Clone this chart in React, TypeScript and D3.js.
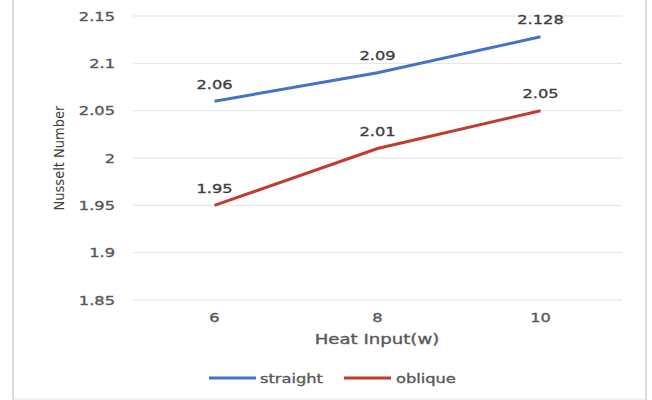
import React from "react";
import * as d3 from "d3";

const categories = ["6", "8", "10"];
const straight = [2.06, 2.09, 2.128];
const oblique = [1.95, 2.01, 2.05];
const straightLabels = ["2.06", "2.09", "2.128"];
const obliqueLabels = ["1.95", "2.01", "2.05"];
const yTicks = [1.85, 1.9, 1.95, 2, 2.05, 2.1, 2.15];
const yTickLabels = ["1.85", "1.9", "1.95", "2", "2.05", "2.1", "2.15"];

const W = 652;
const H = 400;
const left = 133;
const right = 622;
const top = 16;
const bottom = 300;
const SX = 1.25;
const FONT = "'DejaVu Sans', sans-serif";

function T({
  x,
  y,
  anchor = "start",
  size = 13,
  fill = "#595959",
  children,
}: {
  x: number;
  y: number;
  anchor?: string;
  size?: number;
  fill?: string;
  children: React.ReactNode;
}) {
  return (
    <text
      transform={`translate(${x},${y}) scale(${SX},1)`}
      dy="0.35em"
      textAnchor={anchor}
      fontFamily={FONT}
      fontSize={size}
      fill={fill}
      stroke={fill}
      strokeWidth={0.35}
    >
      {children}
    </text>
  );
}

export default function App() {
  const x = d3.scaleBand<string>().domain(categories).range([left, right]);
  const y = d3.scaleLinear().domain([1.85, 2.15]).range([bottom, top]);
  const cx = (c: string) => (x(c) as number) + x.bandwidth() / 2;
  const line = d3
    .line<number>()
    .x((_, i) => cx(categories[i]))
    .y((d) => y(d));
  const series = [
    { name: "straight", vals: straight, labels: straightLabels, color: "#4472C4" },
    { name: "oblique", vals: oblique, labels: obliqueLabels, color: "#C23B33" },
  ];
  return (
    <svg
      width={W}
      height={H}
      style={{ position: "absolute", left: 0, top: 0, background: "#fff" }}
    >
      <line x1={13} x2={13} y1={0} y2={H} stroke="#d9d9d9" strokeWidth={2} />
      <line x1={646} x2={646} y1={0} y2={H} stroke="#d9d9d9" strokeWidth={2} />
      <line x1={13} x2={646} y1={399} y2={399} stroke="#e6e6e6" strokeWidth={1} />
      {yTicks.map((t, i) => (
        <g key={t}>
          <line x1={left} x2={right} y1={y(t)} y2={y(t)} stroke="#e3e3e3" strokeWidth={1} />
          <T x={115} y={y(t)} anchor="end">
            {yTickLabels[i]}
          </T>
        </g>
      ))}
      {categories.map((c) => (
        <T key={c} x={cx(c)} y={317} anchor="middle">
          {c}
        </T>
      ))}
      <T x={377} y={339} anchor="middle" size={14.5}>
        Heat Input(w)
      </T>
      <text
        transform={`translate(59,${(top + bottom) / 2}) rotate(-90)`}
        dy="0.35em"
        textAnchor="middle"
        fontFamily={FONT}
        fontStretch="condensed"
        fontSize={14.5}
        fill="#404040"
      >
        Nusselt Number
      </text>
      {series.map((s) => (
        <g key={s.name}>
          <path d={line(s.vals) || ""} fill="none" stroke={s.color} strokeWidth={3} />
          {s.vals.map((v, i) => (
            <T key={i} x={cx(categories[i])} y={y(v) - 17} anchor="middle" fill="#404040">
              {s.labels[i]}
            </T>
          ))}
        </g>
      ))}
      <g>
        <line x1={209} x2={256} y1={378} y2={378} stroke={series[0].color} strokeWidth={3} />
        <T x={260} y={378}>straight</T>
        <line x1={344} x2={391} y1={378} y2={378} stroke={series[1].color} strokeWidth={3} />
        <T x={396} y={378}>oblique</T>
      </g>
    </svg>
  );
}
